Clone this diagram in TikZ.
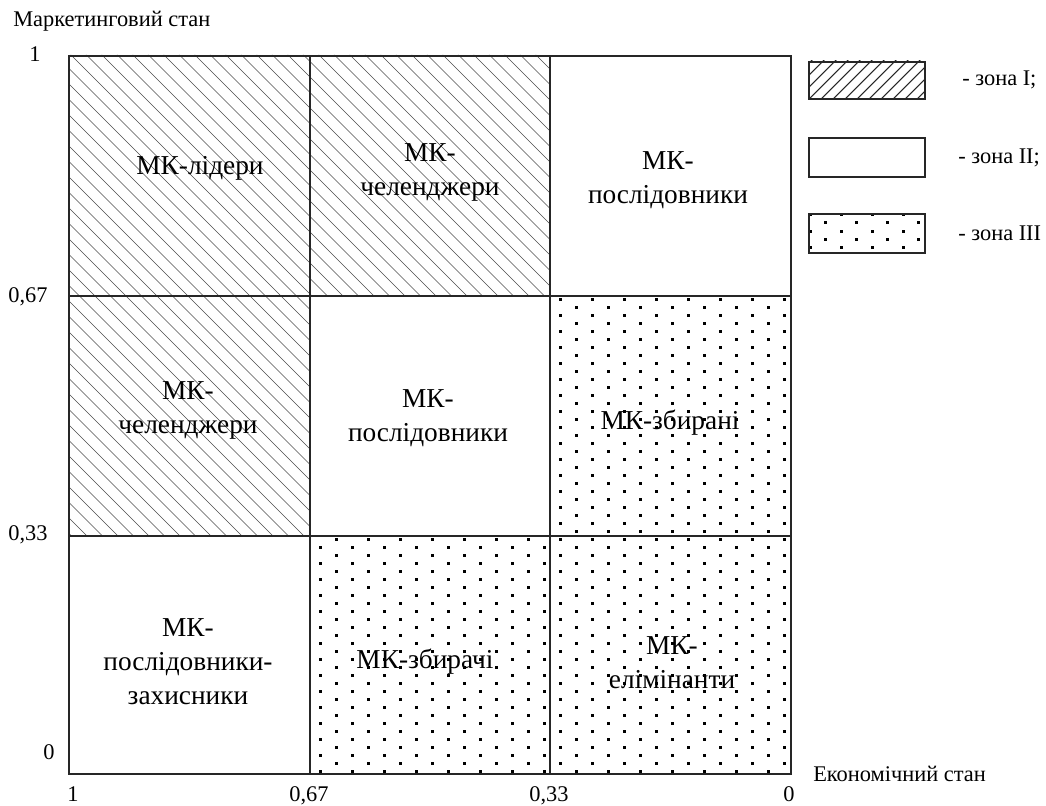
\documentclass[tikz,border=0pt]{standalone}
\usepackage{fontspec}
\setmainfont{Liberation Serif}
\begin{document}
\begin{tikzpicture}[x=0.75pt,y=-0.75pt,
  cellborder/.style={line width=1.4pt,draw=black!85},
  hatch/.style={line width=0.5pt,draw=black!70},
  dotmark/.style={fill=black},
  axislabel/.style={font=\fontsize{16.8pt}{19pt}\selectfont,inner sep=0pt},
  celllabel/.style={font=\fontsize{20.5pt}{25.5pt}\selectfont,align=center,inner sep=0pt},
  legbox/.style={line width=1.2pt,draw=black!85}]
\useasboundingbox (0,0) rectangle (1046,806);

% ---- hatched zone I (grid) ----
\begin{scope}
  \clip (68,55) -- (549,55) -- (549,295) -- (309,295) -- (309,535) -- (68,535) -- cycle;
  \foreach \c in {-480,-464.5,...,520} {
    \draw[hatch] ({\c+40},40) -- ({\c+800},800);
  }
\end{scope}

% ---- dotted zone III (grid) ----
\begin{scope}
  \clip (549,295) -- (790,295) -- (790,773) -- (309,773) -- (309,535) -- (549,535) -- cycle;
  \foreach \j in {-16,...,15} {
    \foreach \i in {-1,...,15} {
      \fill[dotmark] ({320+32*\i-1.5},{547+16*\j-1.5}) rectangle ++(3,3);
      \fill[dotmark] ({336+32*\i-1.5},{555+16*\j-1.5}) rectangle ++(3,3);
    }
  }
\end{scope}

% ---- grid cells ----
\node[cellborder,draw,minimum width=241*0.75pt,minimum height=240*0.75pt,anchor=north west,inner sep=0pt] (c11) at (68,55) {};
\node[cellborder,draw,minimum width=240*0.75pt,minimum height=240*0.75pt,anchor=north west,inner sep=0pt] (c12) at (309,55) {};
\node[cellborder,draw,minimum width=241*0.75pt,minimum height=240*0.75pt,anchor=north west,inner sep=0pt] (c13) at (549,55) {};
\node[cellborder,draw,minimum width=241*0.75pt,minimum height=240*0.75pt,anchor=north west,inner sep=0pt] (c21) at (68,295) {};
\node[cellborder,draw,minimum width=240*0.75pt,minimum height=240*0.75pt,anchor=north west,inner sep=0pt] (c22) at (309,295) {};
\node[cellborder,draw,minimum width=241*0.75pt,minimum height=240*0.75pt,anchor=north west,inner sep=0pt] (c23) at (549,295) {};
\node[cellborder,draw,minimum width=241*0.75pt,minimum height=238*0.75pt,anchor=north west,inner sep=0pt] (c31) at (68,535) {};
\node[cellborder,draw,minimum width=240*0.75pt,minimum height=238*0.75pt,anchor=north west,inner sep=0pt] (c32) at (309,535) {};
\node[cellborder,draw,minimum width=241*0.75pt,minimum height=238*0.75pt,anchor=north west,inner sep=0pt] (c33) at (549,535) {};

% ---- cell labels ----
\node[celllabel] (t11) at (200,168) {МК-лідери};
\node[celllabel] (t12) at (430,172) {МК-\\челенджери};
\node[celllabel] (t13) at (668,180) {МК-\\послідовники};
\node[celllabel] (t21) at (188,410) {МК-\\челенджери};
\node[celllabel] (t22) at (428,418) {МК-\\послідовники};
\node[celllabel] (t23) at (670,423) {МК-збирані};
\node[celllabel] (t31) at (188,662) {МК-\\послідовники-\\захисники};
\node[celllabel] (t32) at (425,662) {МК-збирачі};
\node[celllabel] (t33) at (672,663) {МК-\\елімінанти};

% ---- axis labels ----
\node[axislabel,anchor=base west] (ylab) at (13,27) {Маркетинговий стан};
\node[axislabel,anchor=base] (y1) at (35,62) {1};
\node[axislabel,anchor=base] (y067) at (28,302) {0,67};
\node[axislabel,anchor=base] (y033) at (28,540) {0,33};
\node[axislabel,anchor=base] (y0) at (49,759) {0};
\node[axislabel,anchor=base west] (xlab) at (813,781) {Економічний стан};
\node[axislabel,anchor=base] (x1) at (73,801) {1};
\node[axislabel,anchor=base] (x067) at (309,801) {0,67};
\node[axislabel,anchor=base] (x033) at (549,801) {0,33};
\node[axislabel,anchor=base] (x0) at (789,801) {0};

% ---- legend ----
\begin{scope}
  \clip (808,61) rectangle (924,98);
  \foreach \c in {800,812,...,1040} {
    \draw[line width=0.8pt,black!85] ({\c-40},40) -- ({\c-120},120);
  }
\end{scope}
\node[legbox,draw,minimum width=116*0.75pt,minimum height=37*0.75pt,anchor=north west,inner sep=0pt] (lg1) at (808,61) {};
\node[legbox,draw,minimum width=116*0.75pt,minimum height=39*0.75pt,anchor=north west,inner sep=0pt] (lg2) at (808,137) {};
\begin{scope}
  \clip (808,213) rectangle (924,252);
  \foreach \j in {0,...,3} {
    \foreach \i in {0,...,4} {
      \fill[dotmark] ({810+31*\i-1.5},{215+16*\j-1.5}) rectangle ++(3,3);
      \fill[dotmark] ({825+31*\i-1.5},{223+16*\j-1.5}) rectangle ++(3,3);
    }
  }
\end{scope}
\node[legbox,draw,minimum width=116*0.75pt,minimum height=39*0.75pt,anchor=north west,inner sep=0pt] (lg3) at (808,213) {};
\node[axislabel,anchor=west] (lt1) at (962,80) {- зона I;};
\node[axislabel,anchor=west] (lt2) at (958,158) {- зона II;};
\node[axislabel,anchor=west] (lt3) at (958,233) {- зона III};
\end{tikzpicture}
\end{document}
